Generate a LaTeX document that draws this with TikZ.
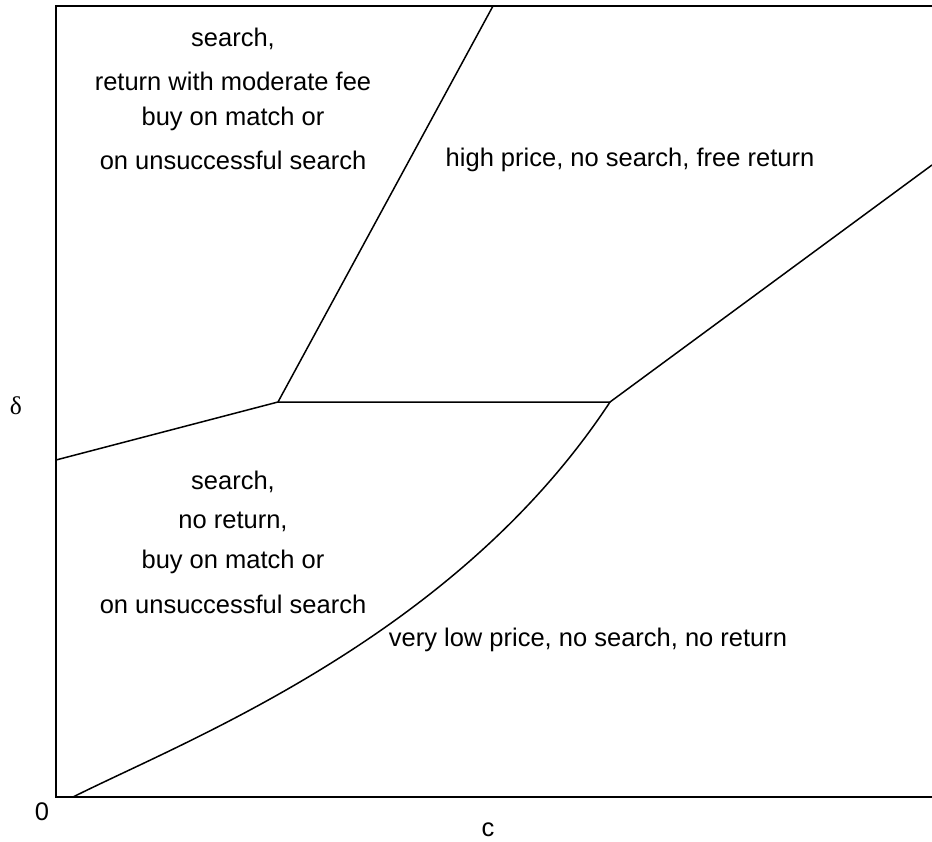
\documentclass[tikz,border=0pt]{standalone}
\usepackage{fontspec}
\setmainfont{Liberation Sans}
\newfontfamily\serifdelta{Liberation Serif}
\begin{document}
\begin{tikzpicture}[x=1pt,y=-1pt,
  bound/.style={line width=1.5pt},
  lbl/.style={font=\fontsize{25.5}{30}\selectfont, inner sep=0pt, anchor=center},
  axlbl/.style={font=\fontsize{25.5}{30}\selectfont, inner sep=0pt, anchor=center}]
\useasboundingbox (0,0) rectangle (932,842);
% frame corners
\coordinate (TL) at (56,6);
\coordinate (TR) at (932,6);
\coordinate (BL) at (56,797);
\coordinate (BR) at (932,797);
% junctions
\coordinate (J1) at (278,402);
\coordinate (J2) at (610,402);
\coordinate (L0) at (56,460);
\coordinate (T0) at (493,6);
\coordinate (R0) at (932,165);
\coordinate (C0) at (73,797);
% frame
\draw[bound] (TR) -- (TL) -- (BL) -- (BR);
% boundaries
\draw[bound] (L0) -- (J1) -- (T0);
\draw[bound] (J1) -- (J2) -- (R0);
\draw[bound] (C0) .. controls (189,739) and (456,636) .. (J2);
% region labels
\node[lbl] (a1) at (233,39) {search,};
\node[lbl] (a2) at (233,81) {return with moderate fee};
\node[lbl] (a3) at (233,119) {buy on match or};
\node[lbl] (a4) at (233,160) {on unsuccessful search};
\node[lbl] (b1) at (630,160) {high price, no search, free return};
\node[lbl] (c1) at (233,482) {search,};
\node[lbl] (c2) at (233,522) {no return,};
\node[lbl] (c3) at (233,562) {buy on match or};
\node[lbl] (c4) at (233,604) {on unsuccessful search};
\node[lbl] (d1) at (588,640) {very low price, no search, no return};
% axis labels
\node[axlbl] (delta) at (16,406) {\serifdelta δ};
\node[axlbl] (zero) at (42,812) {0};
\node[axlbl] (cc) at (488,830) {c};
\end{tikzpicture}
\end{document}
